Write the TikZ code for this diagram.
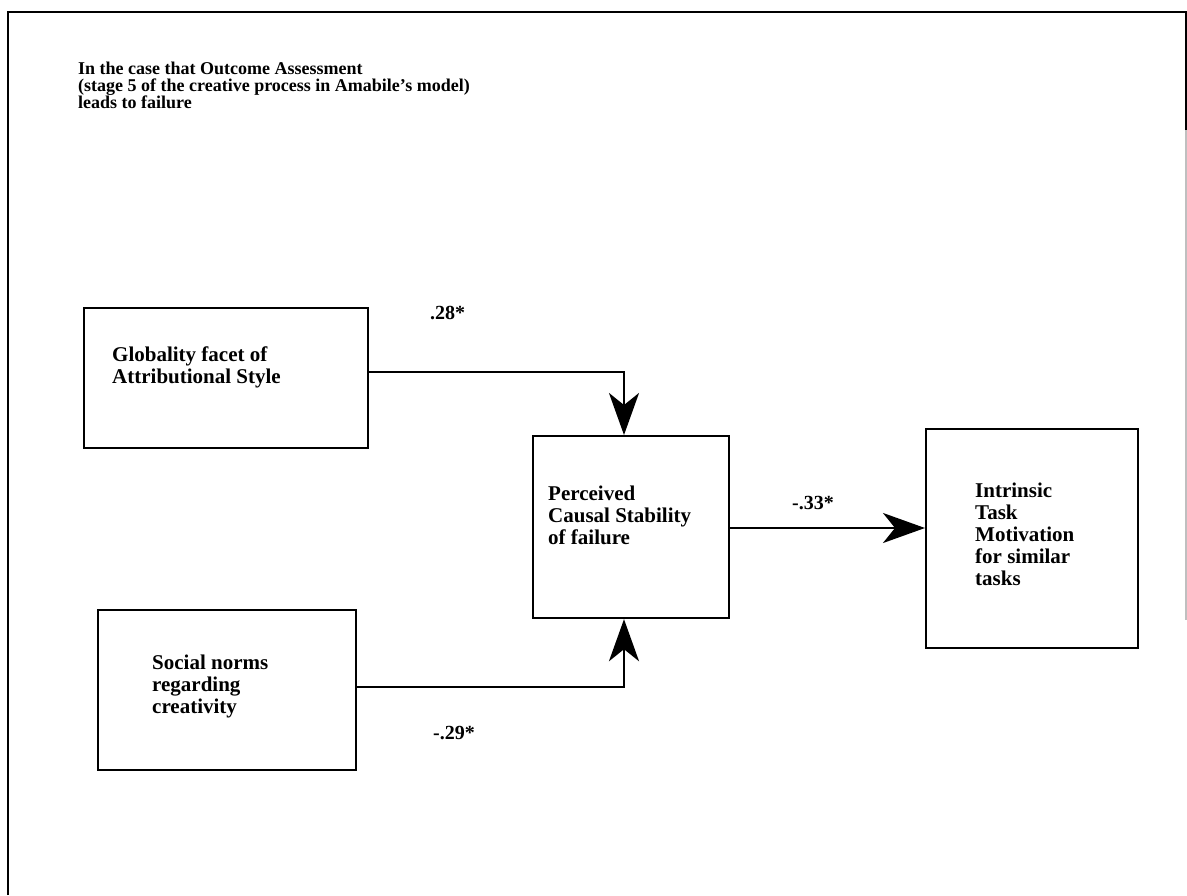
\documentclass[tikz,border=0pt]{standalone}
\usepackage{fontspec}
\setmainfont{Liberation Serif}
\usetikzlibrary{arrows.meta}
\begin{document}
\begin{tikzpicture}[x=1pt,y=-1pt,
  box/.style={draw=black, line width=2.2pt, rectangle, inner sep=0pt, anchor=north west},
  txt/.style={anchor=north west, align=left, inner sep=0pt, font=\fontsize{21}{22}\selectfont\bfseries},
  coef/.style={anchor=west, inner sep=0pt, font=\fontsize{20}{22}\selectfont\bfseries},
  path/.style={draw=black, line width=2.6pt},
  head/.style={-{Stealth[length=42pt,width=30pt,inset=12pt]}}
]
\useasboundingbox (0,0) rectangle (1187,895);
% page frame, open at the bottom
\draw[line width=2.2pt] (8,895) -- (8,12) -- (1186,12) -- (1186,130);
\draw[line width=1.2pt, black!25] (1186,130) -- (1186,620);

% heading
\node[txt, font=\fontsize{18}{17}\selectfont\bfseries] (head) at (78,62)
  {In the case that Outcome Assessment\\(stage 5 of the creative process in Amabile's model)\\leads to failure};

% boxes
\node[box, minimum width=284pt, minimum height=140pt] (glob) at (83,307) {};
\node[box, minimum width=258pt, minimum height=160pt] (soc) at (97,609) {};
\node[box, minimum width=196pt, minimum height=182pt] (stab) at (532,435) {};
\node[box, minimum width=212pt, minimum height=219pt] (itm) at (925,428) {};

% box texts
\node[txt] (globt) at (112,347) {Globality facet of\\Attributional Style};
\node[txt] (soct) at (152,655) {Social norms\\regarding\\creativity};
\node[txt] (stabt) at (548,486) {Perceived\\Causal Stability\\of failure};
\node[txt] (itmt) at (975,483) {Intrinsic\\Task\\Motivation\\for similar\\tasks};

% connectors
\coordinate (c1) at (624,372);
\coordinate (c2) at (624,687);
\draw[path, head] (glob.east |- c1) -- (c1) -- (c1 |- stab.north);
\draw[path, head] (soc.east |- c2) -- (c2) -- (c2 |- stab.south);
\draw[path, head] (stab.east |- 0,528) -- (itm.west |- 0,528);

% path coefficients
\node[coef] (k1) at (430,313) {.28*};
\node[coef] (k2) at (433,733) {-.29*};
\node[coef] (k3) at (792,503) {-.33*};
\end{tikzpicture}
\end{document}
